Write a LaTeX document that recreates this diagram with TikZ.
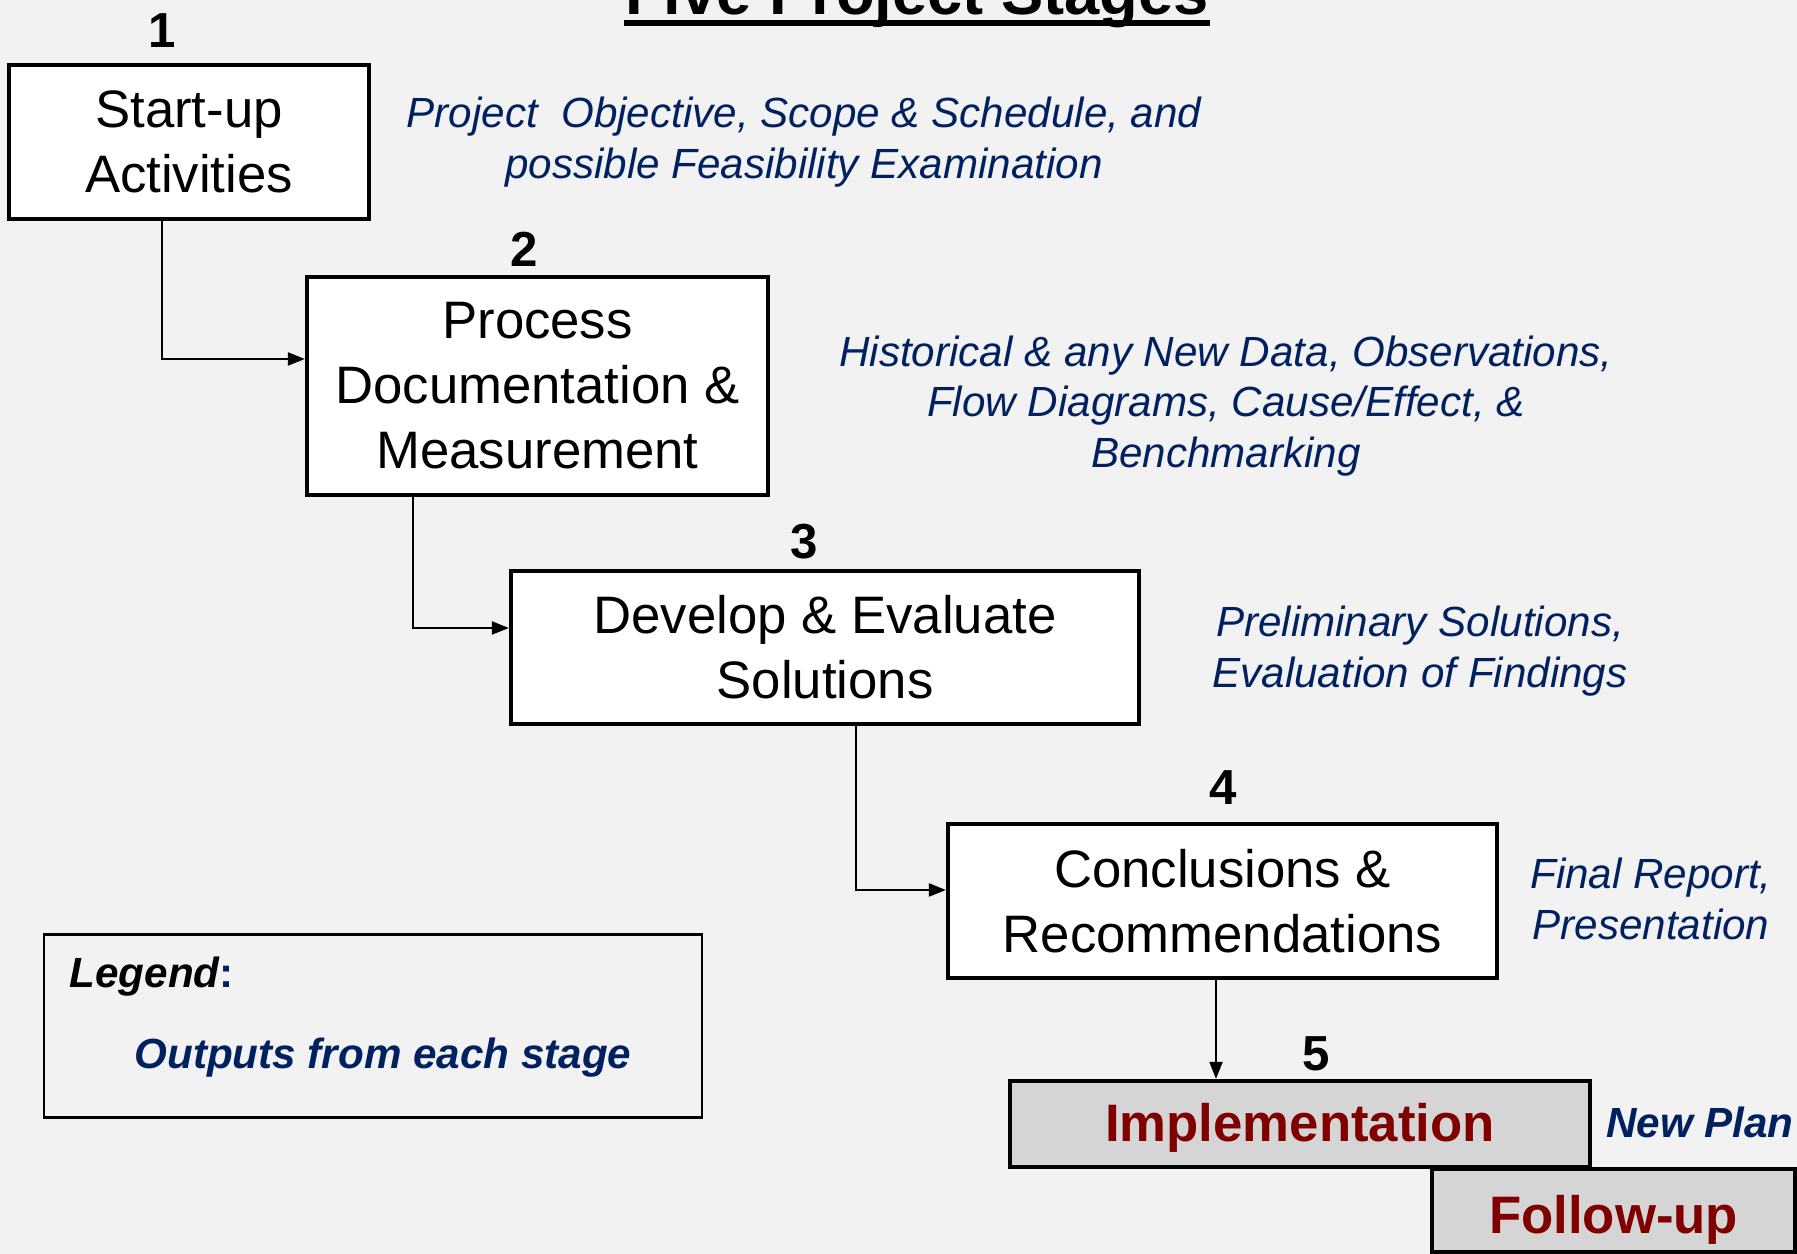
\documentclass[tikz,border=0pt]{standalone}
\usepackage{fontspec}
\setmainfont{Liberation Sans}
\usetikzlibrary{arrows.meta}
\definecolor{navy}{RGB}{0,32,96}
\definecolor{darkred}{RGB}{128,0,0}
\definecolor{bggray}{RGB}{242,242,242}
\definecolor{boxgray}{RGB}{213,213,213}

\begin{document}
\begin{tikzpicture}[stage box/.style={rectangle, draw, line width=1.2pt, fill=white, align=center, inner sep=0pt, font=\fontsize{15}{18.5}\selectfont},
	final box/.style={stage box, fill=boxgray, text=darkred, font=\fontsize{15}{18}\selectfont\bfseries},
	stage num/.style={inner sep=0pt, font=\fontsize{14}{16}\selectfont\bfseries},
	output/.style={align=center, inner sep=0pt, text=navy, font=\fontsize{12}{14.3}\selectfont\itshape},
	flow/.style={line width=0.6pt, -{Triangle[length=0.17cm, width=0.13cm]}}]
	\clip (0,0) rectangle (17.97,-12.54);
	\fill[bggray] (0,0) rectangle (17.97,-12.54);

	\node[inner sep=0pt, anchor=base, font=\fontsize{18}{20}\selectfont\bfseries] (title) at (9.17,-0.15) {Five Project Stages};
	\draw[line width=1.7pt] ([yshift=-0.08cm]title.base west) -- ([yshift=-0.08cm]title.base east);

	\node[stage box, minimum width=3.6cm, minimum height=1.54cm] (A) at (1.89,-1.42) {Start-up\\Activities};
	\node[stage box, minimum width=4.61cm, minimum height=2.18cm] (B) at (5.375,-3.86) {Process\\Documentation \&\\Measurement};
	\node[stage box, minimum width=6.28cm, minimum height=1.53cm] (C) at (8.25,-6.475) {Develop \& Evaluate\\Solutions};
	\node[stage box, minimum width=5.49cm, minimum height=1.54cm] (D) at (12.225,-9.01) {Conclusions \&\\Recommendations};
	\node[final box, minimum width=3.63cm, minimum height=0.83cm] (F) at (16.135,-12.105) {\raisebox{-0.09cm}[\height][\depth]{Follow-up}};
	\node[final box, minimum width=5.8cm, minimum height=0.86cm] (E) at (13.0,-11.24) {\raisebox{-0.04cm}[\height][\depth]{Implementation}};

	\node[stage num] (n1) at (1.62,-0.31) {1};
	\node[stage num] (n2) at (5.24,-2.49) {2};
	\node[stage num] (n3) at (8.04,-5.42) {3};
	\node[stage num] (n4) at (12.23,-7.88) {4};
	\node[stage num] (n5) at (13.16,-10.54) {5};

	\node[output] (o1) at (8.04,-1.42) {Project~~Objective, Scope \& Schedule, and\\possible Feasibility Examination};
	\node[output] (o2) at (12.26,-4.06) {Historical \& any New Data, Observations,\\Flow Diagrams, Cause/Effect, \&\\Benchmarking};
	\node[output] (o3) at (14.20,-6.51) {Preliminary Solutions,\\Evaluation of Findings};
	\node[output] (o4) at (16.51,-8.99) {Final Report,\\Presentation};
	\node[output, font=\fontsize{12}{14.3}\selectfont\bfseries\itshape] (o5) at (17.0,-11.22) {New Plan};

	\node[draw, line width=0.6pt, minimum width=6.58cm, minimum height=1.83cm] (legend) at (3.73,-10.26) {};
	\node[inner sep=0pt, anchor=west, font=\fontsize{12}{14}\selectfont\bfseries\itshape] (key) at (0.69,-9.77) {Legend\textcolor{navy}{\upshape:}};
	\node[output, font=\fontsize{12}{14.3}\selectfont\bfseries\itshape] (keytext) at (3.83,-10.58) {Outputs from each stage};

	\draw[flow] ([xshift=-0.27cm]A.south) |- ([yshift=0.27cm]B.west);
	\draw[flow] ([xshift=-1.245cm]B.south) |- ([yshift=0.195cm]C.west);
	\draw[flow] ([xshift=0.31cm]C.south) |- ([yshift=0.11cm]D.west);
	\draw[flow] ([xshift=-0.065cm]D.south) -- ([xshift=-0.065cm]D.south |- E.north);
\end{tikzpicture}
\end{document}
